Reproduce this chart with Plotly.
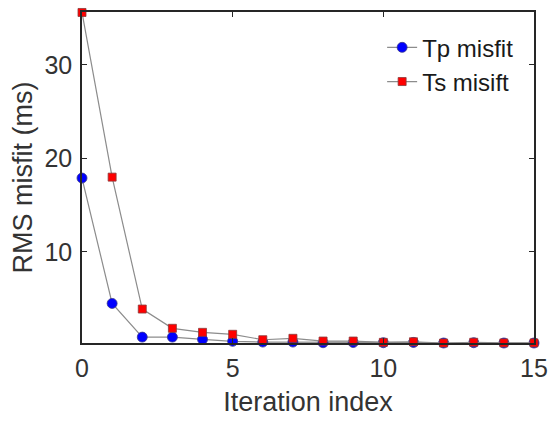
import plotly.graph_objects as go

iterations = list(range(16))
tp_misfit = [17.9, 4.5, 0.9, 0.9, 0.66, 0.45, 0.37, 0.37, 0.3, 0.32, 0.3, 0.33, 0.27, 0.3, 0.27, 0.27]
ts_misfit = [35.6, 18.0, 3.9, 1.84, 1.41, 1.2, 0.62, 0.77, 0.48, 0.48, 0.34, 0.4, 0.27, 0.35, 0.28, 0.28]
x_ticks = [0, 5, 10, 15]
y_ticks = [10, 20, 30]

FONT = "Liberation Sans, Arial, Helvetica"
TXT = "#333333"
AX = "#262626"

fig = go.Figure()
fig.add_trace(go.Scatter(
    x=iterations, y=tp_misfit, mode="lines+markers", name="Tp misfit",
    line=dict(color="#8c8c8c", width=1.2),
    marker=dict(symbol="circle", size=10, color="#0000ff", line=dict(color="#3a3a8a", width=0.8)),
    cliponaxis=False,
))
fig.add_trace(go.Scatter(
    x=iterations, y=ts_misfit, mode="lines+markers", name="Ts misift",
    line=dict(color="#8c8c8c", width=1.2),
    marker=dict(symbol="square", size=8, color="#ff0000", line=dict(color="#8a3a3a", width=0.8)),
    cliponaxis=False,
))

axis_common = dict(
    showline=True, linecolor=AX, linewidth=1.5, mirror="ticks",
    ticks="inside", ticklen=5, tickwidth=1.2, tickcolor=AX,
    showgrid=False, zeroline=False, automargin=False,
    tickfont=dict(family=FONT, size=25, color=TXT),
)
fig.update_xaxes(range=[0, 15], tickvals=x_ticks, ticklabelstandoff=2,
                 title=dict(text="Iteration index", font=dict(family=FONT, size=27, color=TXT), standoff=11),
                 **axis_common)
fig.update_yaxes(range=[0.27, 35.65], tickvals=y_ticks, ticklabelstandoff=3,
                 title=dict(text="RMS misfit (ms)", font=dict(family=FONT, size=27, color=TXT), standoff=4),
                 **axis_common)

fig.update_layout(
    width=550, height=421,
    margin=dict(l=82, r=16, t=12, b=78),
    plot_bgcolor="white", paper_bgcolor="white",
    legend=dict(x=0.664, y=0.96, xanchor="left", yanchor="top",
                font=dict(family=FONT, size=24, color="#1a1a1a"),
                bgcolor="rgba(255,255,255,0)", borderwidth=0, tracegroupgap=0, itemwidth=30),
    showlegend=True,
)

# remove the default 8px page margin so the 550x421 figure fills the window exactly
fig.write_html("out.html", config={"displayModeBar": False},
               post_script="document.body.style.margin='0px';")
